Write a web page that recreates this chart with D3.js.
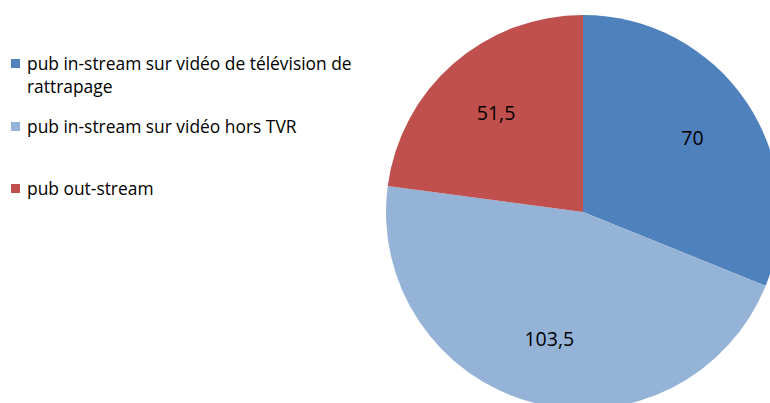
<!DOCTYPE html>
<html>
<head>
<meta charset="utf-8">
<script src="https://cdn.jsdelivr.net/npm/d3@7"></script>
<style>
  body { margin: 0; background: #fff; }
  text { font-family: "Open Sans", "Noto Sans", sans-serif; fill: #000; }
</style>
</head>
<body>
<script>
var categories = ["pub in-stream sur vidéo de télévision de rattrapage",
                  "pub in-stream sur vidéo hors TVR",
                  "pub out-stream"];
var values = [70, 103.5, 51.5];
var colors = ["#4F81BD", "#95B3D7", "#C0504D"];

var width = 770, height = 403;
var cx = 583, cy = 212, radius = 197;

var svg = d3.select("body").append("svg")
    .attr("width", width)
    .attr("height", height);

var pie = d3.pie().sort(null).value(function(d){ return d; });
var arc = d3.arc().innerRadius(0).outerRadius(radius);
var arcs = pie(values);

var g = svg.append("g").attr("transform", "translate(" + cx + "," + cy + ")");

g.selectAll("path.slice")
    .data(arcs).enter().append("path")
    .attr("class", "slice")
    .attr("d", arc)
    .attr("fill", function(d, i){ return colors[i]; });

// labels sit past the middle of each slice, like excel does
var labelArc = d3.arc().innerRadius(radius * 0.67).outerRadius(radius * 0.67);
var fmt = function(v){ return String(v).replace(".", ","); };

g.selectAll("text.lbl")
    .data(arcs).enter().append("text")
    .attr("class", "lbl")
    .attr("transform", function(d){ return "translate(" + labelArc.centroid(d) + ")"; })
    .attr("text-anchor", "middle")
    .attr("dy", "0.35em")
    .style("font-size", "19.5px")
    .text(function(d){ return fmt(d.data); });

// legend
var legY = [64, 127, 189];
var legend = svg.append("g");
var items = legend.selectAll("g.item")
    .data(categories).enter().append("g")
    .attr("class", "item")
    .attr("transform", function(d, i){ return "translate(0," + legY[i] + ")"; });

items.append("rect")
    .attr("x", 11).attr("y", -5)
    .attr("width", 9).attr("height", 9)
    .attr("fill", function(d, i){ return colors[i]; });

items.each(function(d){
    var t = d3.select(this).append("text")
        .attr("x", 27).attr("y", 0)
        .style("font-size", "17.4px");
    var words = d.split(" "), line = [];
    var tspan = t.append("tspan").attr("x", 27).attr("dy", "0.35em");
    words.forEach(function(w){
        line.push(w);
        tspan.text(line.join(" "));
        if (tspan.node().getComputedTextLength() > 345 && line.length > 1) {
            line.pop();
            tspan.text(line.join(" "));
            line = [w];
            tspan = t.append("tspan").attr("x", 27).attr("dy", "23px").text(w);
        }
    });
});
</script>
</body>
</html>
